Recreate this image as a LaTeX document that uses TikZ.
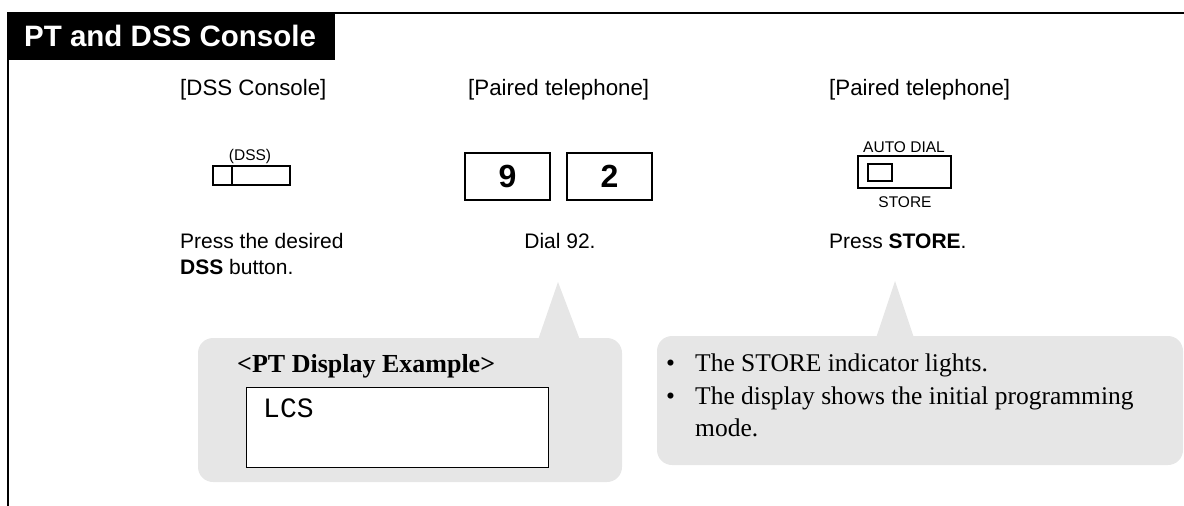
\documentclass[tikz,border=0pt]{standalone}
\usepackage{fontspec}
\setmainfont{Liberation Serif}
\setsansfont{Liberation Sans}
\setmonofont{Liberation Mono}
\usetikzlibrary{positioning}
\definecolor{Bubble_Gray}{HTML}{E6E6E6}

\tikzset{
  headtext/.style={font=\sffamily\fontsize{22.3}{26}\selectfont, inner sep=0pt, anchor=base west},
  steptext/.style={font=\sffamily\fontsize{21}{25}\selectfont, inner sep=0pt},
  keytext/.style={font=\sffamily\fontsize{15.5}{18}\selectfont, inner sep=0pt},
  notetext/.style={font=\rmfamily\fontsize{25.5}{30}\selectfont, inner sep=0pt, anchor=base west},
  dialkey/.style={draw, line width=2.2pt, minimum width=85, minimum height=47, inner sep=0pt,
    font=\sffamily\bfseries\fontsize{32}{36}\selectfont},
  bubble/.style={fill=Bubble_Gray, rounded corners=15}
}

\begin{document}
\begin{tikzpicture}[x=1pt, y=-1pt]
    \useasboundingbox (0,0) rectangle (1184,506);

    % Title bar
    \fill[black] (7,12) rectangle (335,60);
    \node[anchor=west, inner sep=0pt, text=white, font=\sffamily\bfseries\fontsize{29.5}{34}\selectfont]
        (title) at (24,36) {PT and DSS Console};
    \draw[line width=2.2] (335,13) -- (1184,13);
    \draw[line width=2.5] (8,60) -- (8,506);

    % Column headings
    \node[headtext] (dsshead) at (180,95) {[DSS Console]};
    \node[headtext] (pthead) at (468,95) {[Paired telephone]};
    \node[headtext] (pthead2) at (829,95) {[Paired telephone]};

    % DSS button
    \node[keytext, anchor=base] (dsslabel) at (250,160) {(DSS)};
    \node[draw, line width=1.6, minimum width=77, minimum height=19, inner sep=0pt] (dsskey) at (251.5,175.5) {};
    \draw[line width=1.6] (232,166) -- (232,185);

    % Dial keys
    \node[dialkey] (keynine) at (507.5,176.5) {9};
    \node[dialkey] (keytwo) at (609.5,176.5) {2};

    % AUTO DIAL / STORE button
    \node[keytext, anchor=base] (autodial) at (904,152) {AUTO DIAL};
    \node[draw, line width=1.6, minimum width=93, minimum height=32, inner sep=0pt] (storekey) at (904.5,172) {};
    \node[draw, line width=1.6, minimum width=24, minimum height=17, inner sep=0pt] (storelamp) at (880,172.5) {};
    \node[keytext, anchor=base] (storelabel) at (905,207) {STORE};

    % Step texts
    \node[steptext, anchor=base west] (stepone) at (180,248) {Press the desired};
    \node[steptext, anchor=base west] (steponeb) at (180,274) {\textbf{DSS} button.};
    \node[steptext, anchor=base] (steptwo) at (560,248) {Dial 92.};
    \node[steptext, anchor=base west] (stepthree) at (829,248) {Press \textbf{STORE}.};

    % Display example bubble
    \fill[bubble] (198,338) rectangle (622,482);
    \fill[Bubble_Gray] (538,340) -- (558,282) -- (580,340) -- cycle;
    \node[notetext, font=\rmfamily\bfseries\fontsize{26}{30}\selectfont] (disphead) at (237,372) {<PT Display Example>};
    \node[draw, fill=white, line width=1, minimum width=302, minimum height=80, inner sep=0pt] (display) at (397,427) {};
    \node[anchor=base west, inner sep=0pt, font=\ttfamily\fontsize{28}{32}\selectfont] (disptext) at (263,417) {LCS};

    % Store notes bubble
    \fill[bubble] (657,336) rectangle (1183,465);
    \fill[Bubble_Gray] (876,338) -- (895,281) -- (914,338) -- cycle;
    \node[notetext] (dotone) at (666,371) {\textbullet};
    \node[notetext] (noteone) at (695,371) {The STORE indicator lights.};
    \node[notetext] (dottwo) at (666,404) {\textbullet};
    \node[notetext] (notetwo) at (695,404) {The display shows the initial programming};
    \node[notetext] (notethree) at (695,436) {mode.};

\end{tikzpicture}
\end{document}
